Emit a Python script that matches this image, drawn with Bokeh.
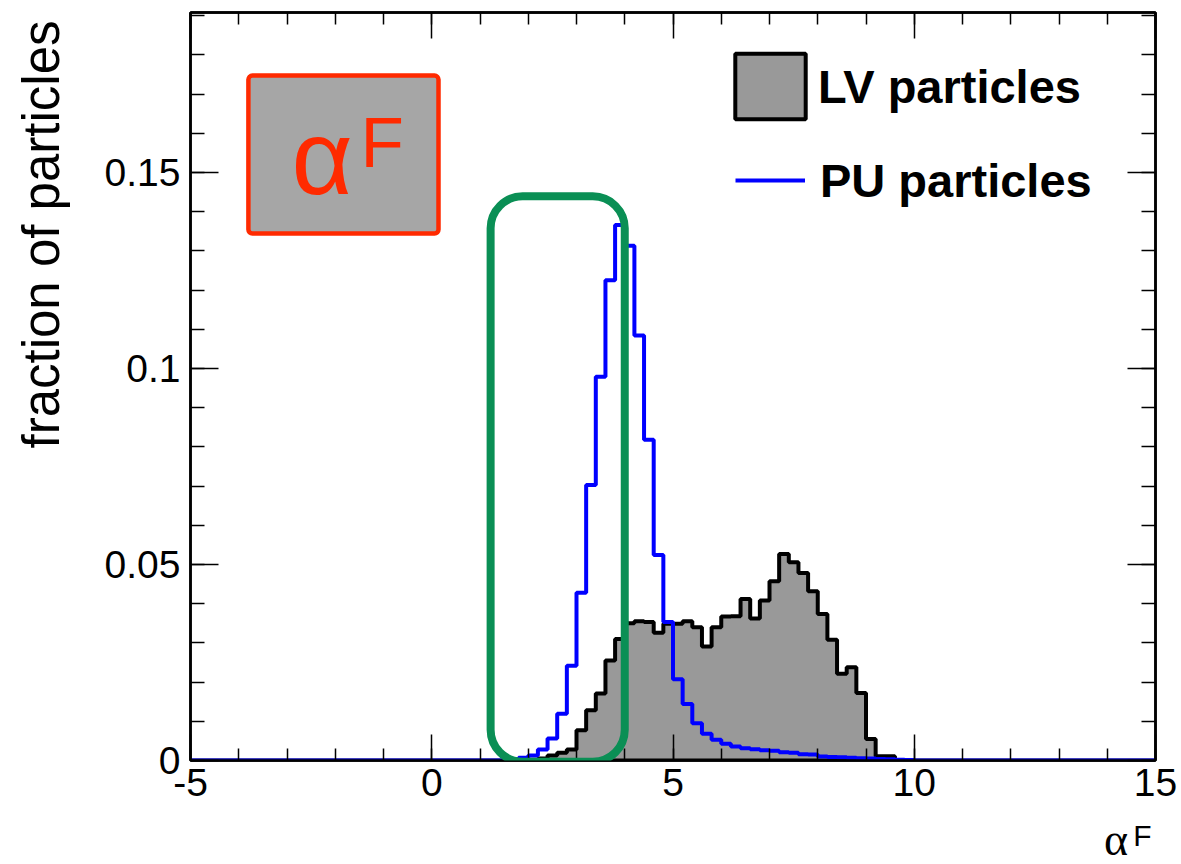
import numpy as np
from bokeh.plotting import figure
from bokeh.layouts import row, column
from bokeh.models import (Range1d, LinearAxis, FixedTicker, Legend, LegendItem,
                          BoxAnnotation, Label, ColumnDataSource)
from bokeh.embed import file_html
from bokeh.resources import INLINE

# ---------------- data ----------------
x_min, x_max = -5.0, 15.0
bin_width = 0.2
first_bin = 1.6          # lower edge of the first listed bin; all other bins are empty

# PU particles (blue line), bins 1.6 ... 9.8
pu_values = [0.0003, 0.0007, 0.0013, 0.0028, 0.0056, 0.0119, 0.0242, 0.0428,
             0.0703, 0.0979, 0.1225, 0.1366, 0.1313, 0.1084, 0.0818, 0.0524,
             0.0353, 0.0207, 0.0144, 0.0095, 0.0068, 0.0053, 0.0043, 0.0036,
             0.0031, 0.0029, 0.0026, 0.0025, 0.0021, 0.0020, 0.0016, 0.0015,
             0.0010, 0.0009, 0.0008, 0.0007, 0.0006, 0.0005, 0.0004, 0.0003,
             0.0002, 0.0001]
# LV particles (grey filled), bins 1.6 ... 9.8
lv_values = [0.0, 0.0, 0.0002, 0.0005, 0.0013, 0.0020, 0.0028, 0.0077,
             0.0128, 0.0171, 0.0255, 0.0310, 0.0350, 0.0355, 0.0353, 0.0326,
             0.0349, 0.0349, 0.0355, 0.0340, 0.0291, 0.0340, 0.0367, 0.0368,
             0.0412, 0.0362, 0.0408, 0.0457, 0.0527, 0.0506, 0.0478, 0.0432,
             0.0374, 0.0308, 0.0221, 0.0238, 0.0172, 0.0055, 0.0011, 0.0011,
             0.0, 0.0]

x_ticks = [-5, 0, 5, 10, 15]
x_tick_labels = {-5: "-5", 0: "0", 5: "5", 10: "10", 15: "15"}
x_minor = list(range(-5, 16))
y_ticks = [0, 0.05, 0.1, 0.15]
y_tick_labels = {0: "0", 0.05: "0.05", 0.1: "0.1", 0.15: "0.15"}
y_minor = [round(0.01 * i, 2) for i in range(0, 20)]
y_max = 0.1908

legend_lv = "LV particles"
legend_pu = "PU particles"
y_title = "fraction of particles"
box_text = ("\u03b1", "F")
x_title = ("\u03b1", "F")

# ---------------- build histograms ----------------
n_bins = int(round((x_max - x_min) / bin_width))
edges = x_min + bin_width * np.arange(n_bins + 1)
i0 = int(round((first_bin - x_min) / bin_width))


def full(vals):
    arr = np.zeros(n_bins)
    arr[i0:i0 + len(vals)] = vals
    return arr


pu = full(pu_values)
lv = full(lv_values)

pu_src = ColumnDataSource(dict(x=edges, y=np.append(pu, pu[-1])))
lv_x = np.concatenate([[edges[0]], np.repeat(edges, 2)[1:-1], [edges[-1]]])
lv_y = np.concatenate([[0.0], np.repeat(lv, 2), [0.0]])
lv_src = ColumnDataSource(dict(x=lv_x, y=lv_y))

# ---------------- layout sizes ----------------
FONT = "Liberation Sans"
LEFT_W = 90          # panel holding the y title
MAIN_H = 812
BOTTOM_H = 52        # panel holding the x title

# ---------------- main figure ----------------
p = figure(frame_width=965, frame_height=748,
           x_range=Range1d(x_min, x_max), y_range=Range1d(0, y_max),
           output_backend="svg", toolbar_location=None,
           min_border_left=100, min_border_right=23,
           min_border_top=12, min_border_bottom=MAIN_H - 12 - 748)
p.grid.visible = False
p.outline_line_color = "black"
p.outline_line_width = 2.5
p.background_fill_color = "white"
p.border_fill_color = "white"

lv_r = p.patch("x", "y", source=lv_src, fill_color="#999999", line_color="black",
               line_width=4)
pu_r = p.step("x", "y", source=pu_src, mode="after", line_color="#0000ff",
              line_width=4)


def style_axis(ax, ticks, minor, tin, tmin, labels=True):
    ax.ticker = FixedTicker(ticks=ticks, minor_ticks=minor)
    ax.major_tick_in = tin
    ax.major_tick_out = 0
    ax.minor_tick_in = tmin
    ax.minor_tick_out = 0
    ax.major_tick_line_width = 1.5
    ax.minor_tick_line_width = 1.5
    ax.major_tick_line_color = "black"
    ax.minor_tick_line_color = "black"
    ax.axis_line_width = 2.5
    ax.axis_line_color = "black"
    if labels:
        ax.major_label_text_font = FONT
        ax.major_label_text_font_size = "39px"
        ax.major_label_text_color = "black"
    else:
        ax.major_label_text_font_size = "0px"
        ax.major_label_standoff = 0
        ax.major_label_text_alpha = 0


style_axis(p.xaxis[0], x_ticks, x_minor, 26, 12)
style_axis(p.yaxis[0], y_ticks, y_minor, 28, 14)
p.xaxis[0].major_label_standoff = 8
p.xaxis[0].major_label_overrides = x_tick_labels
p.yaxis[0].major_label_standoff = 10
p.yaxis[0].major_label_overrides = y_tick_labels

top_ax = LinearAxis()
style_axis(top_ax, x_ticks, x_minor, 26, 12, labels=False)
p.add_layout(top_ax, "above")
right_ax = LinearAxis()
style_axis(right_ax, y_ticks, y_minor, 28, 14, labels=False)
p.add_layout(right_ax, "right")

# ---------------- legends ----------------
leg1 = Legend(items=[LegendItem(label=legend_lv, renderers=[lv_r])],
              location=(536, 633), glyph_width=88, glyph_height=82,
              label_height=82, label_standoff=4, padding=0, margin=0,
              border_line_alpha=0, background_fill_alpha=0,
              label_text_font=FONT, label_text_font_size="47px",
              label_text_font_style="bold", label_text_color="black")
leg2 = Legend(items=[LegendItem(label=legend_pu, renderers=[pu_r])],
              location=(545, 547), glyph_width=70, glyph_height=66,
              label_height=66, label_standoff=15, padding=0, margin=0,
              border_line_alpha=0, background_fill_alpha=0,
              label_text_font=FONT, label_text_font_size="47px",
              label_text_font_style="bold", label_text_color="black")
p.add_layout(leg1, "center")
p.add_layout(leg2, "center")

# ---------------- annotations ----------------
red_box = dict(left=-3.80, right=0.14, top=0.1747, bottom=0.1344)
p.add_layout(BoxAnnotation(**red_box, fill_color="#a6a6a6", fill_alpha=1.0,
                           line_color="#ff2a00", line_width=4.5, line_alpha=1.0,
                           border_radius=4))
p.add_layout(Label(x=-2.907, y=0.1540, text=box_text[0], text_color="#ff2a00",
                   text_font=FONT, text_font_size="106px",
                   text_baseline="middle", text_align="left"))
p.add_layout(Label(x=-1.477, y=0.15755, text=box_text[1], text_color="#ff2a00",
                   text_font=FONT, text_font_size="71px",
                   text_baseline="middle", text_align="left"))

green_box = dict(left=1.22, right=4.0, top=0.1439, bottom=-0.0003)
p.add_layout(BoxAnnotation(**green_box, fill_alpha=0.0, line_color="#0a8f55",
                           line_width=8, line_alpha=1.0, border_radius=32))

# ---------------- title panels ----------------
def text_panel(w, h):
    f = figure(width=w, height=h, x_range=Range1d(0, w), y_range=Range1d(0, h),
               output_backend="svg", toolbar_location=None,
               x_axis_type=None, y_axis_type=None,
               min_border_left=0, min_border_right=0,
               min_border_top=0, min_border_bottom=0)
    f.grid.visible = False
    f.outline_line_color = None
    f.background_fill_color = "white"
    f.border_fill_color = "white"
    return f


left_panel = text_panel(LEFT_W, MAIN_H)
left_panel.add_layout(Label(x=41, y=MAIN_H - 20, text=y_title, angle=np.pi / 2,
                            text_font=FONT, text_font_size="51px",
                            text_color="black", text_align="right",
                            text_baseline="middle"))

bottom_panel = text_panel(p.frame_width + 100 + 23, BOTTOM_H)
bottom_panel.add_layout(Label(x=1030, y=25.5, text=x_title[0],
                              text_font="Liberation Serif", text_font_size="46px",
                              text_color="black", text_align="left",
                              text_baseline="middle"))
bottom_panel.add_layout(Label(x=1063, y=29.4, text=x_title[1], text_font=FONT,
                              text_font_size="30px", text_color="black",
                              text_align="left", text_baseline="middle"))

layout = row(left_panel, column(p, bottom_panel))

open("out.html", "w").write(file_html(layout, INLINE))
